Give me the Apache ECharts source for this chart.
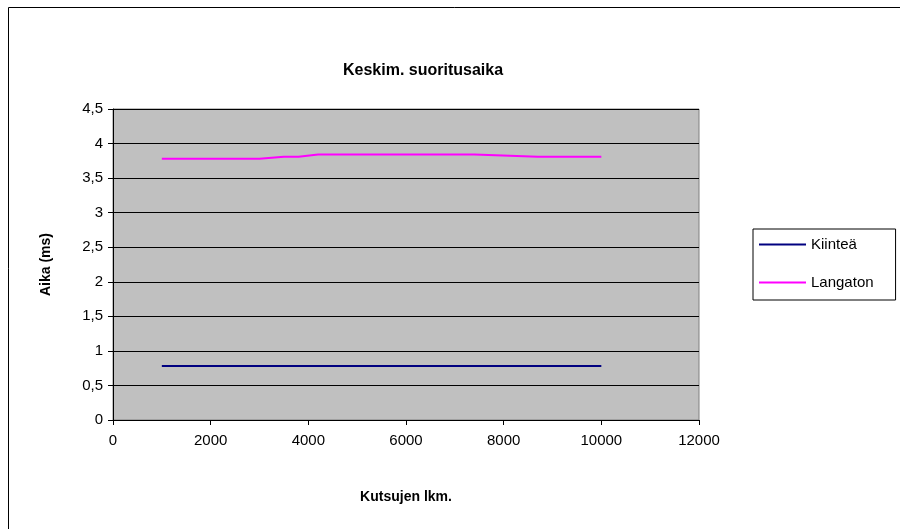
<!DOCTYPE html>
<html>
<head>
<meta charset="utf-8">
<script src="https://cdn.jsdelivr.net/npm/echarts@6/dist/echarts.min.js"></script>
<style>html,body{margin:0;padding:0;background:#fff}#c{width:900px;height:529px}</style>
</head>
<body>
<div id="c"></div>
<script>
var titleText = 'Keskim. suoritusaika';
var xName = 'Kutsujen lkm.';
var yName = 'Aika (ms)';
var seriesNames = ['Kiinteä', 'Langaton'];
var kiinteaX = [1000, 2500, 5000, 7500, 10000];
var kiinteaY = [0.78, 0.78, 0.78, 0.78, 0.78];
var langatonX = [1000, 2000, 3000, 3500, 3800, 4200, 5000, 6000, 7400, 8700, 10000];
var langatonY = [3.78, 3.78, 3.78, 3.81, 3.81, 3.84, 3.84, 3.84, 3.84, 3.81, 3.81];

function pairs(xs, ys){ return xs.map(function(x,i){ return [x, ys[i]]; }); }

var font = 'Liberation Sans, Arial, sans-serif';
var chart = echarts.init(document.getElementById('c'));
chart.setOption({
  animation: false,
  backgroundColor: '#fff',
  title: {
    text: titleText, left: 338, top: 58,
    textStyle: {fontFamily: font, fontSize: 16, fontWeight: 'bold', color: '#000'}
  },
  graphic: [{
    type: 'rect', shape: {x: 8.5, y: 7.5, width: 1000, height: 1000},
    style: {fill: null, stroke: '#000', lineWidth: 1}, silent: true, z: 0
  }],
  legend: {
    orient: 'vertical', left: 753, top: 229,
    data: seriesNames,
    icon: 'rect', itemWidth: 47, itemHeight: 2, itemGap: 23,
    padding: [8, 22, 10, 6],
    borderColor: '#000', borderWidth: 1, backgroundColor: '#fff',
    textStyle: {fontFamily: font, fontSize: 15, color: '#000'}
  },
  grid: {
    left: 113, right: 201, top: 109, bottom: 109,
    show: true, backgroundColor: '#C0C0C0', borderColor: '#808080', borderWidth: 1
  },
  xAxis: {
    type: 'value', min: 0, max: 12000, interval: 2000,
    name: xName, nameLocation: 'middle', nameGap: 70,
    nameTextStyle: {fontFamily: font, fontSize: 14, fontWeight: 'bold', color: '#000'},
    axisLine: {lineStyle: {color: '#000', width: 1}},
    axisTick: {show: true, length: 5, lineStyle: {color: '#000'}},
    axisLabel: {fontFamily: font, fontSize: 15, color: '#000', margin: 13,
      formatter: function(v){ return String(v); }},
    splitLine: {show: false}
  },
  yAxis: {
    type: 'value', min: 0, max: 4.5, interval: 0.5,
    name: yName, nameLocation: 'middle', nameGap: 60,
    nameTextStyle: {fontFamily: font, fontSize: 14, fontWeight: 'bold', color: '#000'},
    axisLine: {show: true, lineStyle: {color: '#000', width: 1}},
    axisTick: {show: true, length: 5, lineStyle: {color: '#000'}},
    axisLabel: {fontFamily: font, fontSize: 15, color: '#000', margin: 10,
      formatter: function(v){ return String(v).replace('.', ','); }},
    splitLine: {show: true, lineStyle: {color: '#000', width: 1}}
  },
  series: [
    {name: seriesNames[0], type: 'line', data: pairs(kiinteaX, kiinteaY), showSymbol: false,
     lineStyle: {color: '#000080', width: 2}, itemStyle: {color: '#000080'}},
    {name: seriesNames[1], type: 'line', data: pairs(langatonX, langatonY), showSymbol: false,
     lineStyle: {color: '#FF00FF', width: 2}, itemStyle: {color: '#FF00FF'}}
  ]
});
</script>
</body>
</html>
